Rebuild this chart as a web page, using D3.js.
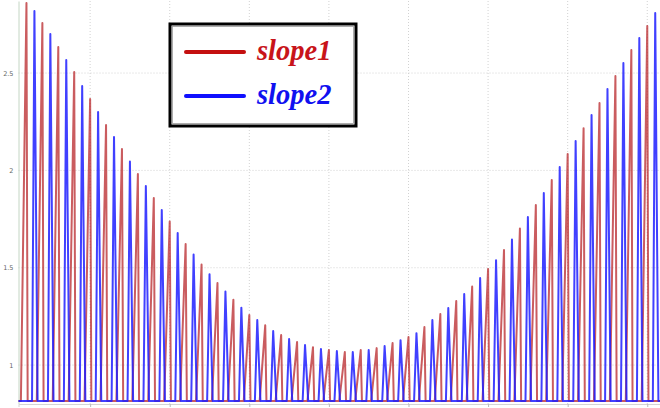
<!DOCTYPE html>
<html>
<head>
<meta charset="utf-8">
<script src="https://cdn.jsdelivr.net/npm/d3@7"></script>
<style>
  body { margin: 0; background: #fff; }
  svg { display: block; }
</style>
</head>
<body>
<div id="chart-area"></div>
<script>
// peak heights of each spike
var slope1Peaks = [2.860, 2.757, 2.634, 2.505, 2.366, 2.233, 2.110, 1.981, 1.858, 1.737,
                   1.622, 1.516, 1.421, 1.336, 1.257, 1.205, 1.154, 1.118, 1.092, 1.077,
                   1.067, 1.077, 1.087, 1.113, 1.144, 1.195, 1.262, 1.329, 1.403, 1.493,
                   1.591, 1.701, 1.822, 1.950, 2.084, 2.217, 2.346, 2.485, 2.618, 2.741]
var slope2Peaks = [2.818, 2.700, 2.567, 2.433, 2.300, 2.171, 2.045, 1.920, 1.796, 1.678,
                   1.568, 1.467, 1.378, 1.295, 1.231, 1.175, 1.134, 1.103, 1.082, 1.072,
                   1.067, 1.077, 1.098, 1.128, 1.164, 1.231, 1.293, 1.365, 1.447, 1.539,
                   1.645, 1.760, 1.884, 2.017, 2.151, 2.284, 2.418, 2.551, 2.680, 2.808]
var slope1Start = 0.2, slope2Start = 0.3, period = 0.2
var baseValue = 0.815
var yTicks = [1, 1.5, 2, 2.5]
var xTicks = [1, 2, 3, 4, 5, 6, 7, 8]

var W = 660, H = 408
var margin = { left: 18.5, right: 0, top: 1, bottom: 4 }
var width = W - margin.left - margin.right,
    height = H - margin.top - margin.bottom

var svg = d3.select('#chart-area')
    .append('svg')
    .attr('width', W)
    .attr('height', H)

var g = svg.append('g')
    .attr('transform', 'translate(' + margin.left + ', ' + margin.top + ')')

var x = d3.scaleLinear().domain([0.1, 8.16]).range([0, width])
var y = d3.scaleLinear().domain([0.8, 2.87]).range([height, 0])

// grid
g.selectAll('.vgrid').data(xTicks).enter()
  .append('line')
  .attr('x1', d => x(d)).attr('x2', d => x(d))
  .attr('y1', 0).attr('y2', height)
  .attr('stroke', '#d2d2d2')
  .attr('stroke-dasharray', '1,2')
g.selectAll('.hgrid').data(yTicks).enter()
  .append('line')
  .attr('x1', 0).attr('x2', width)
  .attr('y1', d => y(d)).attr('y2', d => y(d))
  .attr('stroke', '#d2d2d2')
  .attr('stroke-dasharray', '1,2')

// axes
var yAxis = d3.axisLeft(y).tickValues(yTicks).tickSize(0).tickPadding(5)
  .tickFormat(d3.format('~g'))
var ya = g.append('g').call(yAxis)
ya.select('.domain').attr('stroke', '#c4d6c4')
ya.selectAll('text').attr('font-size', 6.5).attr('fill', '#666')
  .attr('font-family', 'DejaVu Sans')

var xa = g.append('g').attr('transform', 'translate(0,' + height + ')')
  .call(d3.axisBottom(x).tickValues(xTicks).tickSize(3).tickFormat(''))
xa.select('.domain').attr('stroke', '#d4d4d4')
xa.selectAll('line').attr('stroke', '#bbb')

// build a spike series: ramp up to each peak, drop back to the base line
function spikes(peaks, start, rise, fall) {
  var pts = [[x.domain()[0], baseValue]]
  peaks.forEach(function(p, i) {
    var c = start + i * period
    pts.push([c - rise, baseValue])
    pts.push([c, p])
    pts.push([c + fall, baseValue])
  })
  pts.push([x.domain()[1], baseValue])
  return pts
}

var line = d3.line().x(d => x(d[0])).y(d => y(d[1]))

g.append('path')
  .datum(spikes(slope1Peaks, slope1Start, 0.07, 0.015))
  .attr('d', line)
  .attr('fill', 'none')
  .attr('stroke', '#b8262a')
  .attr('stroke-width', 2)
  .attr('stroke-opacity', 0.75)
  .attr('stroke-linejoin', 'round')

g.append('path')
  .datum(spikes(slope2Peaks, slope2Start, 0.03, 0.04))
  .attr('d', line)
  .attr('fill', 'none')
  .attr('stroke', '#1f1fff')
  .attr('stroke-width', 2)
  .attr('stroke-opacity', 0.85)
  .attr('stroke-linejoin', 'round')

// legend
var lg = svg.append('g')
lg.append('rect')
  .attr('x', 170).attr('y', 24).attr('width', 186).attr('height', 102)
  .attr('fill', '#fff').attr('stroke', '#000').attr('stroke-width', 3)
lg.append('rect')
  .attr('x', 172.5).attr('y', 26.5).attr('width', 181).attr('height', 97)
  .attr('fill', 'none').attr('stroke', '#999').attr('stroke-width', 0.8)

var legendItems = [
  { name: 'slope1', line: '#c40f0f', text: '#c8141a' },
  { name: 'slope2', line: '#1010ff', text: '#1010f0' }
]
legendItems.forEach(function(d, i) {
  var ly = 52 + i * 44
  lg.append('line')
    .attr('x1', 186).attr('x2', 244).attr('y1', ly).attr('y2', ly)
    .attr('stroke', d.line).attr('stroke-width', 4).attr('stroke-linecap', 'round')
  lg.append('text')
    .attr('x', 257).attr('y', ly + 8)
    .attr('font-family', 'Liberation Serif')
    .attr('font-style', 'italic').attr('font-weight', 'bold')
    .attr('font-size', 28.5)
    .attr('fill', d.text)
    .text(d.name)
})
</script>
</body>
</html>
